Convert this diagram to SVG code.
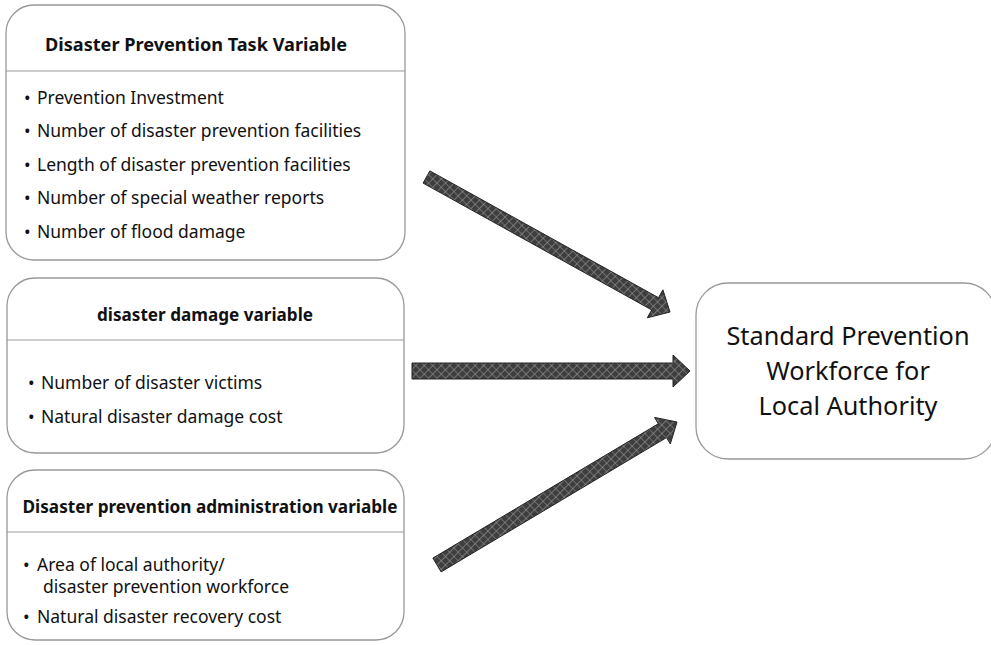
<svg xmlns="http://www.w3.org/2000/svg" width="991" height="645" viewBox="0 0 991 645">
<defs>
<pattern id="hatch" width="6" height="6" patternUnits="userSpaceOnUse" patternTransform="rotate(45)">
<rect width="6" height="6" fill="#3e3e3e"/>
<path d="M0 0H6M0 0V6" stroke="#9a9a9a" stroke-width="1.2"/>
</pattern>
<style>
.box{fill:#fff;stroke:#999;stroke-width:1.3}
.div{stroke:#999;stroke-width:1.2}
.title{font-family:"Noto Sans","DejaVu Sans",sans-serif;font-weight:bold;font-size:17px;fill:#111;text-anchor:middle}
.item{font-family:"Noto Sans","DejaVu Sans",sans-serif;font-size:17.5px;fill:#111}
.big{font-family:"Noto Sans","DejaVu Sans",sans-serif;font-size:25.3px;fill:#111;text-anchor:middle}
.arrow{fill:url(#hatch);stroke:#222;stroke-width:1}
</style>
</defs>
<rect width="991" height="645" fill="#fff"/>
<g id="task">
<rect class="box" x="6" y="5" width="399" height="255" rx="28"/>
<line class="div" x1="6" y1="71" x2="405" y2="71"/>
<text class="title" x="196" y="51" textLength="302" lengthAdjust="spacingAndGlyphs">Disaster Prevention Task Variable</text>
<text class="item" x="24" y="104">•</text><text class="item" x="37" y="104">Prevention Investment</text>
<text class="item" x="24" y="137">•</text><text class="item" x="37" y="137">Number of disaster prevention facilities</text>
<text class="item" x="24" y="171">•</text><text class="item" x="37" y="171">Length of disaster prevention facilities</text>
<text class="item" x="24" y="204">•</text><text class="item" x="37" y="204">Number of special weather reports</text>
<text class="item" x="24" y="238">•</text><text class="item" x="37" y="238">Number of flood damage</text>
</g>
<g id="damage">
<rect class="box" x="7" y="278" width="397" height="175" rx="28"/>
<line class="div" x1="7" y1="340" x2="404" y2="340"/>
<text class="title" x="205" y="321" textLength="216" lengthAdjust="spacingAndGlyphs">disaster damage variable</text>
<text class="item" x="28" y="389">•</text><text class="item" x="41" y="389">Number of disaster victims</text>
<text class="item" x="28" y="423">•</text><text class="item" x="41" y="423">Natural disaster damage cost</text>
</g>
<g id="admin">
<rect class="box" x="7" y="470" width="397" height="170" rx="28"/>
<line class="div" x1="7" y1="532" x2="404" y2="532"/>
<text class="title" x="210" y="513" textLength="375" lengthAdjust="spacingAndGlyphs">Disaster prevention administration variable</text>
<text class="item" x="23" y="571">•</text><text class="item" x="37" y="571">Area of local authority/</text>
<text class="item" x="43" y="593">disaster prevention workforce</text>
<text class="item" x="23" y="623">•</text><text class="item" x="37" y="623">Natural disaster recovery cost</text>
</g>
<g id="workforce">
<rect class="box" x="696" y="283" width="300" height="176" rx="32"/>
<text class="big" x="848" y="345">Standard Prevention</text>
<text class="big" x="848" y="380">Workforce for</text>
<text class="big" x="848" y="415">Local Authority</text>
</g>
<g id="connectors">
<polygon class="arrow" points="429.9,170.9 658.5,297.7 662.9,289.8 670,312 647.3,317.8 651.7,309.9 423.1,183.1"/>
<polygon class="arrow" points="412,363 673,363 673,355 690,371 673,387 673,379 412,379"/>
<polygon class="arrow" points="432.9,558.1 658.3,423.8 654.5,417.4 677,422 670.3,444 666.5,437.6 441.1,571.9"/>
</g>
</svg>
